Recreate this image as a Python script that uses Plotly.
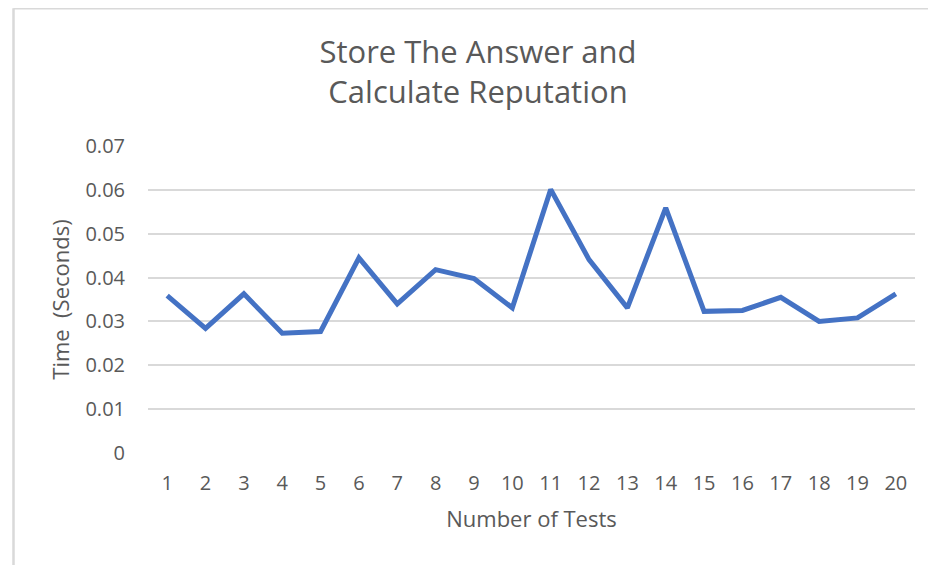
import plotly.graph_objects as go

tests = list(range(1, 21))
times = [0.0359, 0.0284, 0.0363, 0.0273, 0.0277, 0.0445, 0.0340, 0.0418, 0.0398, 0.0331,
         0.0601, 0.0441, 0.0331, 0.0559, 0.0323, 0.0325, 0.0355, 0.0300, 0.0308, 0.0363]
y_ticks = [0, 0.01, 0.02, 0.03, 0.04, 0.05, 0.06, 0.07]
y_tick_labels = ["0", "0.01", "0.02", "0.03", "0.04", "0.05", "0.06", "0.07"]

# the page has an 8px body margin, so the figure is drawn 8px smaller
W, H = 928, 557
L, R, T, B = 140, 21, 138, 112
pw, ph = W - L - R, H - T - B

FONT = "Open Sans"
GRAY = "#595959"

fig = go.Figure()
fig.add_trace(go.Scatter(
    x=tests, y=times, mode="lines",
    line=dict(color="#4472C4", width=5),
    hoverinfo="x+y", showlegend=False,
))

# outer frame lines (left and top) like the source image
fx = (5.5 - L) / pw
fy_top = (H - B - 0.2) / ph
fig.add_shape(type="line", xref="paper", yref="paper", x0=fx, x1=(W - L) / pw + 0.01,
              y0=fy_top, y1=fy_top, line=dict(color="#d9d9d9", width=2.5))
fig.add_shape(type="line", xref="paper", yref="paper", x0=fx, x1=fx,
              y0=fy_top, y1=-(B + 5) / ph, line=dict(color="#d9d9d9", width=2.5))

fig.update_layout(
    width=W, height=H,
    margin=dict(l=L, r=R, t=T, b=B),
    paper_bgcolor="white", plot_bgcolor="white",
    font=dict(family=FONT, color=GRAY),
    title=dict(text="Store The Answer and<br>Calculate Reputation",
               x=470 / W, xanchor="center",
               y=1 - 55 / H, yanchor="middle",
               font=dict(family=FONT, size=31, color=GRAY)),
    xaxis=dict(
        range=[0.5, 20.5], tickmode="array", tickvals=tests,
        ticktext=[str(t) for t in tests],
        showgrid=False, zeroline=False, showline=False,
        tickfont=dict(size=20, color=GRAY), ticklabelstandoff=16,
        title=dict(text="Number of Tests", font=dict(size=22, color=GRAY), standoff=16),
        fixedrange=True,
    ),
    yaxis=dict(
        range=[0, 0.07], tickmode="array", tickvals=y_ticks, ticktext=y_tick_labels,
        showgrid=True, gridcolor="#d9d9d9", gridwidth=1.5,
        zeroline=False, showline=False,
        tickfont=dict(size=20, color=GRAY), ticklabelstandoff=22,
        title=dict(text="Time\u00a0 (Seconds)", font=dict(size=22, color=GRAY), standoff=9),
        fixedrange=True,
    ),
)

fig.write_html("out.html")
